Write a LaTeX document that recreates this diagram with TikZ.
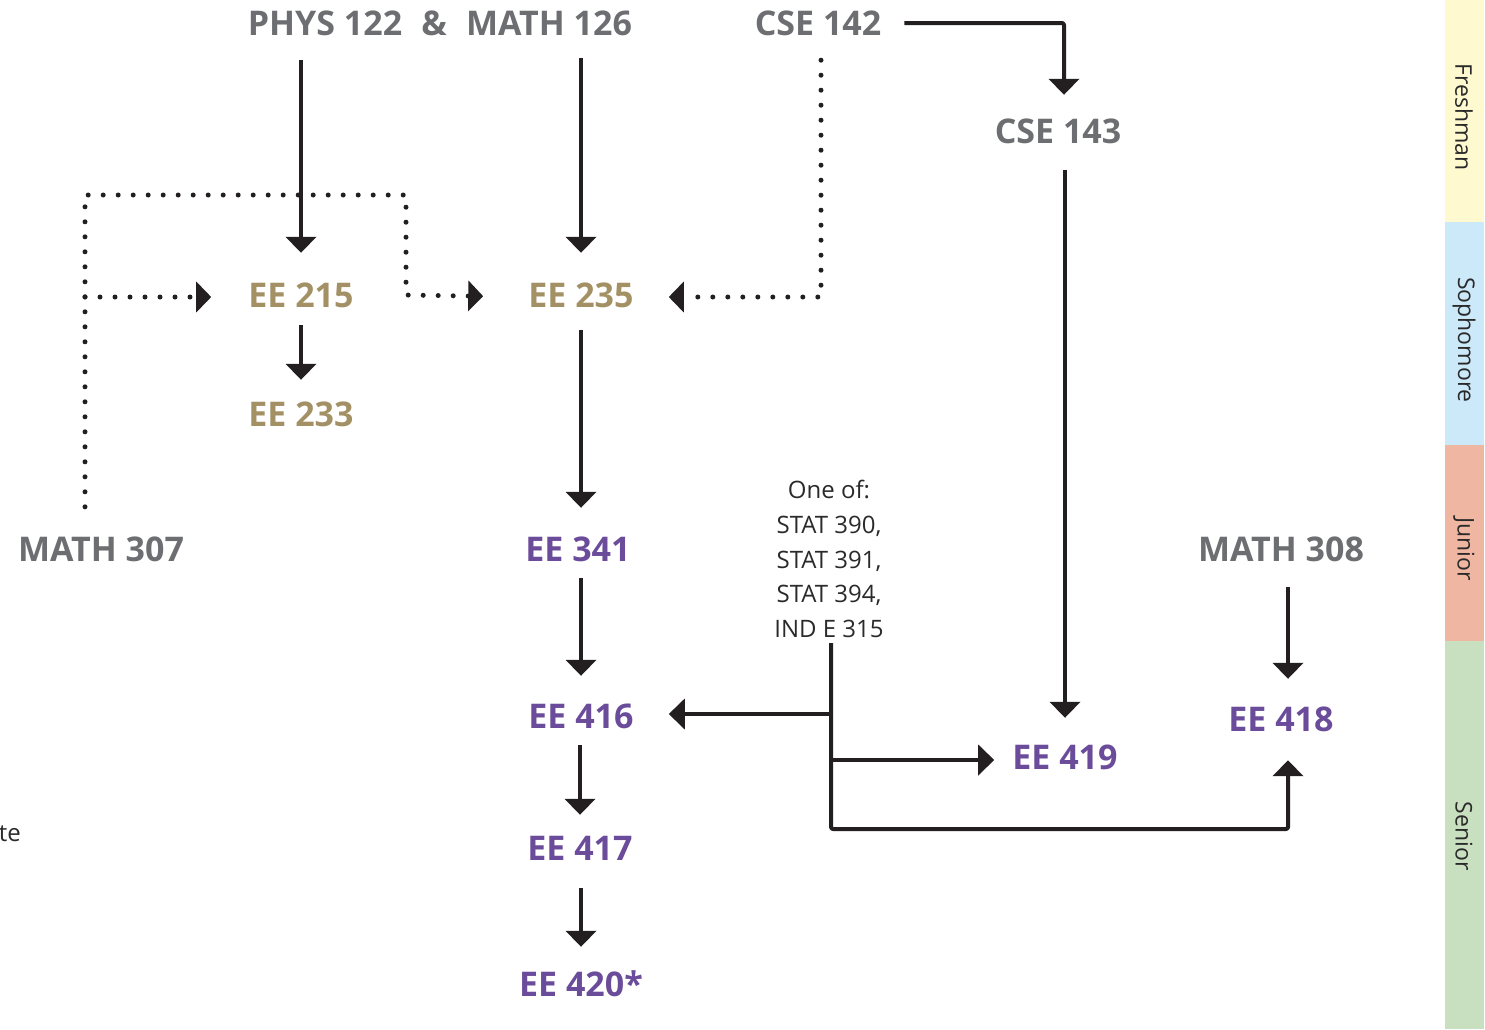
\documentclass[tikz,border=0pt]{standalone}
\usepackage{fontspec}
\setmainfont{Open Sans}
\usetikzlibrary{arrows.meta,calc}
\definecolor{cgray}{HTML}{6D6E71}
\definecolor{cgold}{HTML}{A39165}
\definecolor{cpurple}{HTML}{6B4C9A}
\definecolor{cblack}{HTML}{231F20}
\definecolor{ctext}{HTML}{2A2A2A}
\definecolor{cyellow}{HTML}{FEF9CE}
\definecolor{cblue}{HTML}{CCE9FA}
\definecolor{csalmon}{HTML}{EFB6A2}
\definecolor{cgreen}{HTML}{C8DFC0}
\begin{document}
\begin{tikzpicture}[x=1pt,y=-1pt,
  course/.style={font=\fontsize{34}{40}\selectfont\bfseries, text height=24pt, text depth=0pt, inner sep=0pt},
  prereq/.style={course,text=cgray},
  soph/.style={course,text=cgold},
  major/.style={course,text=cpurple},
  small/.style={font=\fontsize{24}{34.75}\selectfont, text=ctext, inner sep=0pt},
  year/.style={font=\fontsize{23}{28}\selectfont, text=ctext, rotate=-90, inner sep=0pt},
  arr/.style={line width=4pt, draw=cblack, line join=round, rounded corners=2pt, -{Triangle[width=30pt,length=16pt]}},
  dots/.style={line width=5pt, draw=cblack, line cap=round, dash pattern=on 0pt off 15pt, -{Triangle[width=30pt,length=15pt]}},
]
\useasboundingbox (0,0) rectangle (1485,1029);

% year bar
\fill[cyellow] (1445,0) rectangle (1484,222);
\fill[cblue] (1445,222) rectangle (1484,445);
\fill[csalmon] (1445,445) rectangle (1484,641);
\fill[cgreen] (1445,641) rectangle (1484,1029);
\node[year] (yfr) at (1464,117) {Freshman};
\node[year] (yso) at (1464,340) {Sophomore};
\node[year] (yju) at (1464,549) {Junior};
\node[year] (yse) at (1464,836) {Senior};

% courses
\node[prereq] (phys) at (325,23) {PHYS 122};
\node[prereq] (amp) at (434,23) {\&};
\node[prereq] (m126) at (549,23) {MATH 126};
\node[prereq] (c142) at (818,23) {CSE 142};
\node[prereq] (c143) at (1058,131) {CSE 143};
\node[soph] (e215) at (301,295) {EE 215};
\node[soph] (e235) at (581,295) {EE 235};
\node[soph] (e233) at (301,414) {EE 233};
\node[prereq] (m307) at (101,549) {MATH 307};
\node[major] (e341) at (578,549) {EE 341};
\node[prereq] (m308) at (1281,549) {MATH 308};
\node[major] (e416) at (581,716) {EE 416};
\node[major] (e419) at (1065,757) {EE 419};
\node[major] (e418) at (1281,719) {EE 418};
\node[major] (e417) at (580,848) {EE 417};
\node[major] (e420) at (581,984) {EE 420*};
\node[small, align=center, anchor=north] (oneof) at (829,480) {One of:\\STAT 390,\\STAT 391,\\STAT 394,\\IND E 315};
\node[small, anchor=base east] (te) at (21,841) {te};

% helper corners
\coordinate (dl) at (85,195);
\coordinate (dr) at (406,195);
\coordinate (bot) at (831,829);

% solid arrows
\draw[arr, shorten <=25pt, shorten >=30pt] (phys.south -| e215) -- (e215.north);
\draw[arr, shorten <=23pt, shorten >=30pt] (m126.south -| e235) -- (e235.north);
\draw[arr, shorten <=23pt, shorten >=24pt] (c142.east) -| ([xshift=6pt]c143.north);
\draw[arr, shorten <=27pt, shorten >=27pt] (c143.south -| e419) -- (e419.north);
\draw[arr, shorten <=18pt, shorten >=22pt] (e215.south) -- (e233.north);
\draw[arr, shorten <=23pt, shorten >=29pt] (e235.south) -- (e235.south |- e341.north);
\draw[arr, shorten <=17pt, shorten >=28pt] (e341.south -| e416) -- (e416.north);
\draw[arr, shorten <=17pt, shorten >=21pt] (e416.south -| e417) -- (e417.north);
\draw[arr, shorten <=28pt, shorten >=25pt] (e417.south -| e420) -- (e420.north);
\draw[arr, shorten <=26pt, shorten >=28pt] ([xshift=7pt]m308.south) -- ([xshift=7pt]e418.north);
\draw[arr, shorten <=5pt, shorten >=29pt] (oneof.south -| bot) -- (bot) -| ([xshift=7pt]e418.south);
\draw[arr, shorten >=35pt] ([yshift=2pt]bot |- e416.east) -- ([yshift=2pt]e416.east);
\draw[arr, shorten >=18pt] ([yshift=-3pt]bot |- e419.west) -- ([yshift=-3pt]e419.west);

% dotted arrows
\draw[dots, shorten <=30pt, shorten >=45pt] ([xshift=-16pt]m307.north) -- (dl) -- (dr) -- (dr |- e235.west) -- ([yshift=-2pt]e235.west);
\draw[dots, shorten >=37pt] ([yshift=-2pt]dl |- e215.west) -- ([yshift=-2pt]e215.west);
\draw[dots, shorten <=25pt, shorten >=35pt] ([xshift=3pt]c142.south) |- ([yshift=-2pt]e235.east);
\end{tikzpicture}
\end{document}
